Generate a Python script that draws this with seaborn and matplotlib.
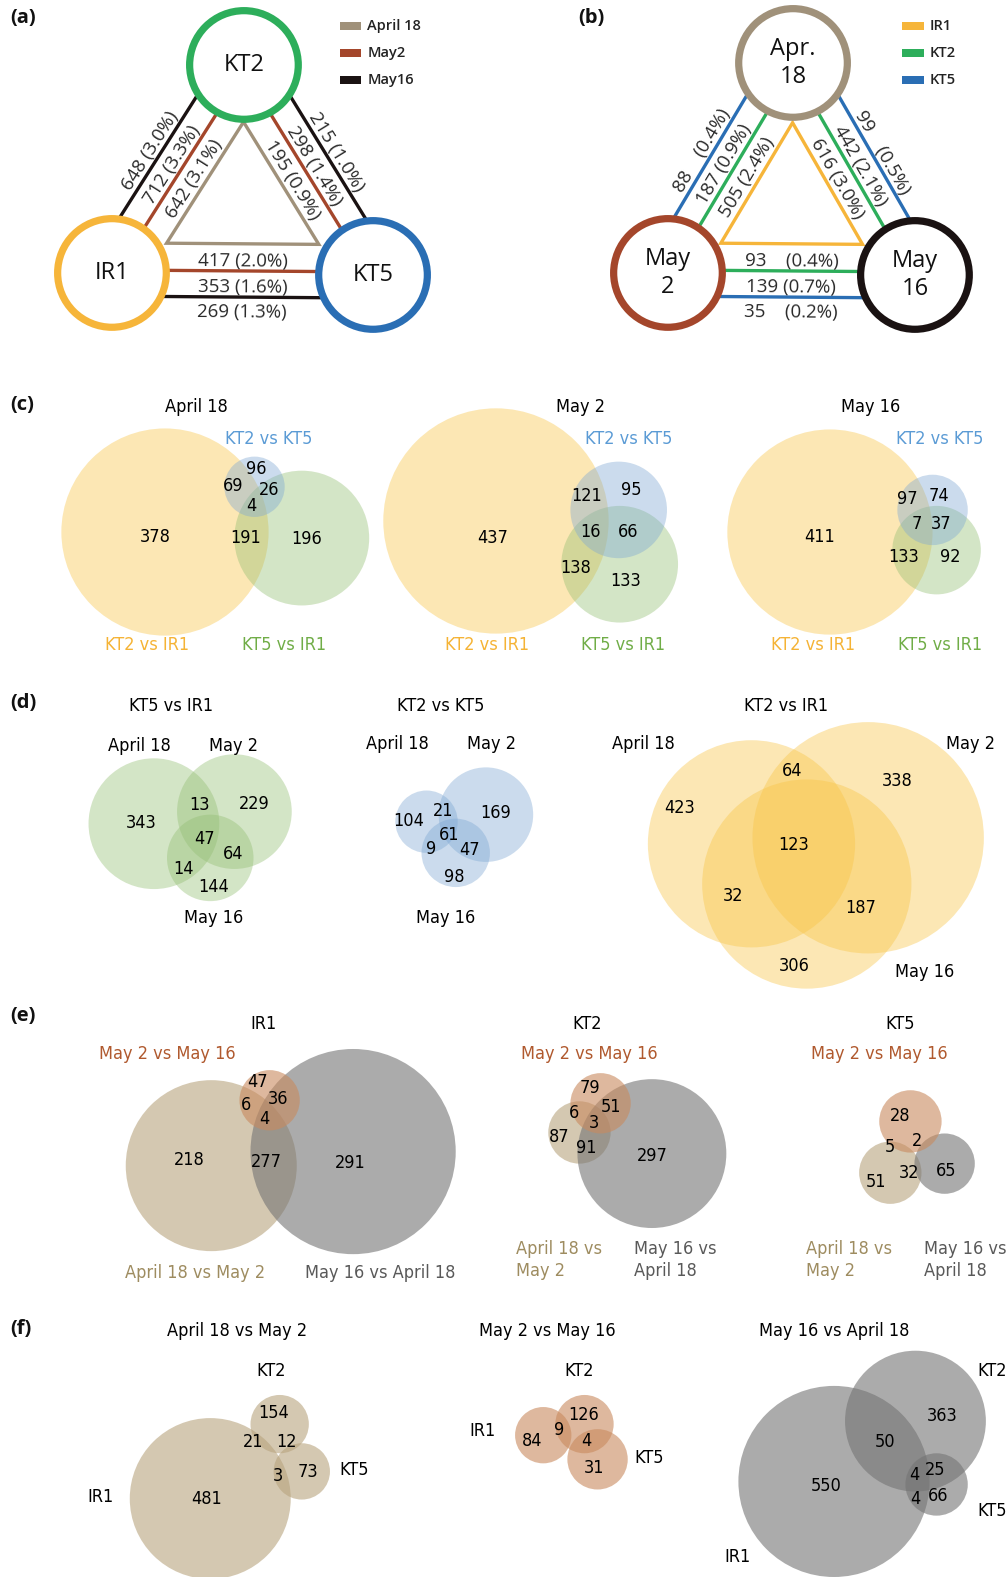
import numpy as np
import matplotlib
matplotlib.use("Agg")
import matplotlib.pyplot as plt
from matplotlib.patches import Circle, Rectangle, Polygon
import seaborn as sns

sns.set_theme(style="white")
plt.rcParams['font.family'] = ['Open Sans', 'DejaVu Sans']
VF = ['DejaVu Sans']

# ---------------- data ----------------
# (a) shared DEGs between genotypes at each date
a_genotypes = ["KT2", "IR1", "KT5"]
a_dates = ["April 18", "May2", "May16"]
a_kt2_ir1_n = [642, 712, 648]
a_kt2_ir1_pct = [3.1, 3.3, 3.0]
a_kt2_kt5_n = [195, 298, 215]
a_kt2_kt5_pct = [0.9, 1.4, 1.0]
a_ir1_kt5_n = [417, 353, 269]
a_ir1_kt5_pct = [2.0, 1.6, 1.3]

# (b) shared DEGs between dates for each genotype
b_dates = ["Apr.\n18", "May\n2", "May\n16"]
b_genotypes = ["IR1", "KT2", "KT5"]
b_apr_may2_n = [505, 187, 88]
b_apr_may2_pct = [2.4, 0.9, 0.4]
b_apr_may16_n = [616, 442, 99]
b_apr_may16_pct = [3.0, 2.1, 0.5]
b_may2_may16_n = [93, 139, 35]
b_may2_may16_pct = [0.4, 0.7, 0.2]

# Venn region counts: [A only, B only, C only, AB, AC, BC, ABC]
c_sets = ["KT2 vs IR1", "KT5 vs IR1", "KT2 vs KT5"]
c_titles = ["April 18", "May 2", "May 16"]
c_apr18 = [378, 196, 96, 191, 69, 26, 4]
c_may2 = [437, 133, 95, 138, 121, 66, 16]
c_may16 = [411, 92, 74, 133, 97, 37, 7]

d_sets = ["April 18", "May 2", "May 16"]
d_titles = ["KT5 vs IR1", "KT2 vs KT5", "KT2 vs IR1"]
d_kt5_ir1 = [343, 229, 144, 13, 14, 64, 47]
d_kt2_kt5 = [104, 169, 98, 21, 9, 47, 61]
d_kt2_ir1 = [423, 338, 306, 64, 32, 187, 123]

e_sets = ["April 18 vs May 2", "May 16 vs April 18", "May 2 vs May 16"]
e_titles = ["IR1", "KT2", "KT5"]
e_ir1 = [218, 291, 47, 277, 6, 36, 4]
e_kt2 = [87, 297, 79, 91, 6, 51, 3]
e_kt5 = [51, 65, 28, 32, 5, 2, None]

f_sets = ["IR1", "KT2", "KT5"]
f_titles = ["April 18 vs May 2", "May 2 vs May 16", "May 16 vs April 18"]
f_apr_may2 = [481, 154, 73, 21, 3, 12, None]
f_may2_may16 = [84, 126, 31, 9, None, 4, None]
f_may16_apr = [550, 363, 66, 50, 4, 25, 4]

# ---------------- colours ----------------
GREEN, YELLOW, BLUE = "#2DAE5B", "#F6B53A", "#2A6EB4"
TAN, BROWN, BLACK = "#A0917A", "#A4462B", "#1A1212"
V_YEL, V_BLU, V_GRN = "#F8C444", "#7DA7D3", "#93BE72"
V_TAN, V_BRN, V_GRY = "#B8A47E", "#C98A5E", "#747474"
T_YEL, T_BLU, T_GRN = "#F5B335", "#5B9BD5", "#70AD47"
T_TAN, T_BRN, T_GRY = "#9E8C60", "#B0592E", "#595959"
TXT = "#000000"

fig = plt.figure(figsize=(10.07, 15.77), dpi=100)
ax = fig.add_axes([0, 0, 1, 1])
ax.set_xlim(0, 1001)
ax.set_ylim(1568, 0)
ax.axis('off')


def intersect(p1, d1, p2, d2):
    A = np.array([d1, -d2]).T
    t = np.linalg.solve(A, p2 - p1)
    return p1 + t[0] * d1


def network(centers, names, ring_colors, edges, line_colors, legend_names, legend_xy,
            name_fs=17, lab_fs=13.5):
    centers = [np.array(c, float) for c in centers]
    centroid = sum(centers) / 3
    r = 54
    line_off = [30, 3, -23]
    inner_lines = []
    for (i, j, ns, pcts, lab_off) in edges:
        pi, pj = centers[i], centers[j]
        d = (pj - pi) / np.linalg.norm(pj - pi)
        n = np.array([-d[1], d[0]])
        if np.dot(centroid - pi, n) < 0:
            n = -n
        inner_lines.append((pi + n * line_off[0], d))
        for k in (1, 2):
            a = pi + n * line_off[k]
            b = pj + n * line_off[k]
            ax.plot([a[0], b[0]], [a[1], b[1]], color=line_colors[k], lw=2.4,
                    solid_capstyle='butt', zorder=1)
        ang = np.degrees(np.arctan2(-(pj - pi)[1], (pj - pi)[0]))
        mid = (pi + pj) / 2
        for k in range(3):
            pad = "" if ns[k] >= 100 else "   "
            pos = mid + n * lab_off[k]
            ax.text(pos[0], pos[1], f"{ns[k]}{pad} ({pcts[k]:.1f}%)", rotation=ang,
                    rotation_mode='anchor', ha='center', va='center', fontsize=lab_fs,
                    color="#2a2a2a", zorder=4)
    verts = [intersect(*inner_lines[0], *inner_lines[1]),
             intersect(*inner_lines[1], *inner_lines[2]),
             intersect(*inner_lines[2], *inner_lines[0])]
    ax.add_patch(Polygon(verts, closed=True, fill=False, edgecolor=line_colors[0],
                         lw=2.4, zorder=1, joinstyle='miter'))
    for c, nm, col in zip(centers, names, ring_colors):
        ax.add_patch(Circle(c, r, facecolor='white', edgecolor=col, lw=5.2, zorder=2))
        ax.text(c[0], c[1], nm, ha='center', va='center', fontsize=name_fs,
                color="#111111", linespacing=1.2, zorder=3)
    lx, ly = legend_xy
    for k, (nm, col) in enumerate(zip(legend_names, line_colors)):
        y = ly + k * 27
        ax.add_patch(Rectangle((lx, y - 4), 21, 8, facecolor=col, edgecolor='none'))
        ax.text(lx + 27, y, nm, ha='left', va='center', fontsize=10.5,
                fontweight='semibold', color="#222222")


side_off = [19, -7, -33]
bot_off = [13, -13, -38]

# (a)
network(centers=[(242.5, 64.6), (111.3, 271.4), (370.8, 273.4)],
        names=a_genotypes, ring_colors=[GREEN, YELLOW, BLUE],
        edges=[(1, 0, a_kt2_ir1_n, a_kt2_ir1_pct, side_off),
               (0, 2, a_kt2_kt5_n, a_kt2_kt5_pct, side_off),
               (1, 2, a_ir1_kt5_n, a_ir1_kt5_pct, bot_off)],
        line_colors=[TAN, BROWN, BLACK], legend_names=a_dates, legend_xy=(338, 25.8))

# (b)
network(centers=[(788.3, 62.6), (664.0, 271.4), (909.5, 273.4)],
        names=b_dates, ring_colors=[TAN, BROWN, BLACK],
        edges=[(1, 0, b_apr_may2_n, b_apr_may2_pct, side_off),
               (0, 2, b_apr_may16_n, b_apr_may16_pct, side_off),
               (1, 2, b_may2_may16_n, b_may2_may16_pct, bot_off)],
        line_colors=[YELLOW, GREEN, BLUE], legend_names=b_genotypes, legend_xy=(897, 25.8))

for lab, (x, y) in zip(["(a)", "(b)", "(c)", "(d)", "(e)", "(f)"],
                       [(10, 18), (575, 18), (10, 403), (10, 699), (10, 1010), (10, 1321)]):
    ax.text(x, y, lab, ha='left', va='center', fontsize=14.5, fontweight='bold', color='#111111')


def venn(circles, colors, alpha, counts, pos, fs=13):
    for (cx, cy, r), col in zip(circles, colors):
        ax.add_patch(Circle((cx, cy), r, facecolor=col, edgecolor='none', alpha=alpha, zorder=1))
    for n, (x, y) in zip(counts, pos):
        if n is None:
            continue
        ax.text(x, y, f"{n}", ha='center', va='center', fontsize=fs, family=VF,
                fontstretch='condensed', color=TXT, zorder=3)


def vtext(x, y, s, color=TXT, fs=13, ha='center'):
    ax.text(x, y, s, ha=ha, va='center', fontsize=fs, family=VF, fontstretch='condensed',
            color=color, zorder=3, linespacing=1.25)


# (c)
c_layout = [
    dict(circ=[(164, 529, 103), (300, 535, 67), (253, 484, 30)],
         pos=[(154, 534), (305, 536), (255, 466), (244, 535), (232, 483), (268, 487), (250, 503)],
         title=(195, 405), lab=[(146, 641), (282, 641), (267, 436)]),
    dict(circ=[(493, 518, 112), (616, 561, 58), (615, 507, 48)],
         pos=[(490, 535), (622, 578), (627, 487), (572, 565), (583, 493), (624, 529), (587, 529)],
         title=(577, 405), lab=[(484, 641), (619, 641), (625, 436)]),
    dict(circ=[(825, 529, 102), (931, 547, 44), (927, 507, 35)],
         pos=[(815, 534), (945, 554), (933, 493), (898, 554), (902, 496), (936, 521), (911, 521)],
         title=(865, 405), lab=[(808, 641), (934, 641), (934, 436)]),
]
for lay, counts, title in zip(c_layout, [c_apr18, c_may2, c_may16], c_titles):
    venn(lay['circ'], [V_YEL, V_GRN, V_BLU], 0.4, counts, lay['pos'])
    vtext(*lay['title'], title)
    for (x, y), s, col in zip(lay['lab'], c_sets, [T_YEL, T_GRN, T_BLU]):
        vtext(x, y, s, color=col)

# (d)
d_layout = [
    dict(circ=[(153, 819, 65), (233, 807, 57), (209, 853, 43)], col=V_GRN,
         pos=[(140, 818), (253, 799), (212, 882), (198, 800), (182, 864), (232, 849), (203, 834)],
         title=(170, 702), lab=[(139, 742), (232, 742), (212, 913)]),
    dict(circ=[(424, 817, 31), (483, 810, 47), (453, 848, 34)], col=V_BLU,
         pos=[(406, 816), (493, 808), (452, 872), (440, 806), (429, 844), (467, 845), (446, 830)],
         title=(438, 702), lab=[(395, 740), (489, 740), (443, 913)]),
    dict(circ=[(747, 839, 103), (863, 833, 115), (802, 879, 104)], col=V_YEL,
         pos=[(676, 803), (892, 777), (790, 960), (787, 767), (729, 891), (856, 903), (789, 840)],
         title=(781, 702), lab=[(640, 740), (965, 740), (919, 966)]),
]
for lay, counts, title in zip(d_layout, [d_kt5_ir1, d_kt2_kt5, d_kt2_ir1], d_titles):
    venn(lay['circ'], [lay['col']] * 3, 0.4, counts, lay['pos'])
    vtext(*lay['title'], title)
    for (x, y), s in zip(lay['lab'], d_sets):
        vtext(x, y, s)

# (e)
e_layout = [
    dict(circ=[(210, 1159, 85), (351, 1145, 102), (268, 1094, 30)],
         pos=[(188, 1153), (348, 1156), (256, 1076), (265, 1155), (245, 1099), (276, 1093), (263, 1113)],
         title=(262, 1018), top=(166, 1048),
         lab=[(194, 1266, 'center'), (378, 1266, 'center')], split=False),
    dict(circ=[(576, 1126, 31), (648, 1147, 74), (597, 1097, 30)],
         pos=[(556, 1131), (648, 1149), (586, 1082), (583, 1141), (571, 1107), (607, 1101), (590, 1117)],
         title=(584, 1018), top=(586, 1048),
         lab=[(513, 1253, 'left'), (630, 1253, 'left')], split=True),
    dict(circ=[(885, 1166, 31), (939, 1157, 30), (905, 1115, 31)],
         pos=[(871, 1175), (940, 1164), (895, 1110), (904, 1166), (885, 1140), (912, 1134), (900, 1150)],
         title=(895, 1018), top=(874, 1048),
         lab=[(801, 1253, 'left'), (918, 1253, 'left')], split=True),
]
for lay, counts, title in zip(e_layout, [e_ir1, e_kt2, e_kt5], e_titles):
    venn(lay['circ'], [V_TAN, V_GRY, V_BRN], 0.6, counts, lay['pos'])
    vtext(*lay['title'], title)
    vtext(*lay['top'], e_sets[2], color=T_BRN)
    for (x, y, ha), s, col in zip(lay['lab'], e_sets[:2], [T_TAN, T_GRY]):
        txt = s.replace(" vs ", " vs\n") if lay['split'] else s
        vtext(x, y, txt, color=col, ha=ha)

# (f)
f_layout = [
    dict(circ=[(209, 1490, 80), (278, 1416, 29), (300, 1463, 28)], col=V_TAN,
         pos=[(205, 1490), (272, 1405), (306, 1464), (252, 1434), (276, 1468), (285, 1434), (280, 1450)],
         title=(236, 1323), lab=[(100, 1488), (270, 1363), (352, 1462)]),
    dict(circ=[(540, 1427, 28), (581, 1416, 29), (594, 1451, 30)], col=V_BRN,
         pos=[(529, 1433), (580, 1407), (591, 1460), (556, 1422), (560, 1440), (583, 1433), (570, 1430)],
         title=(544, 1323), lab=[(480, 1423), (576, 1363), (645, 1450)]),
    dict(circ=[(829, 1473, 95), (910, 1413, 70), (931, 1476, 31)], col=V_GRY,
         pos=[(821, 1478), (937, 1408), (933, 1487), (880, 1434), (910, 1490), (930, 1462), (909, 1467)],
         title=(829, 1323), lab=[(733, 1548), (986, 1363), (986, 1502)]),
]
for lay, counts, title in zip(f_layout, [f_apr_may2, f_may2_may16, f_may16_apr], f_titles):
    venn(lay['circ'], [lay['col']] * 3, 0.6, counts, lay['pos'])
    vtext(*lay['title'], title)
    for (x, y), s in zip(lay['lab'], f_sets):
        vtext(x, y, s)

fig.savefig("out.png", dpi=100)
